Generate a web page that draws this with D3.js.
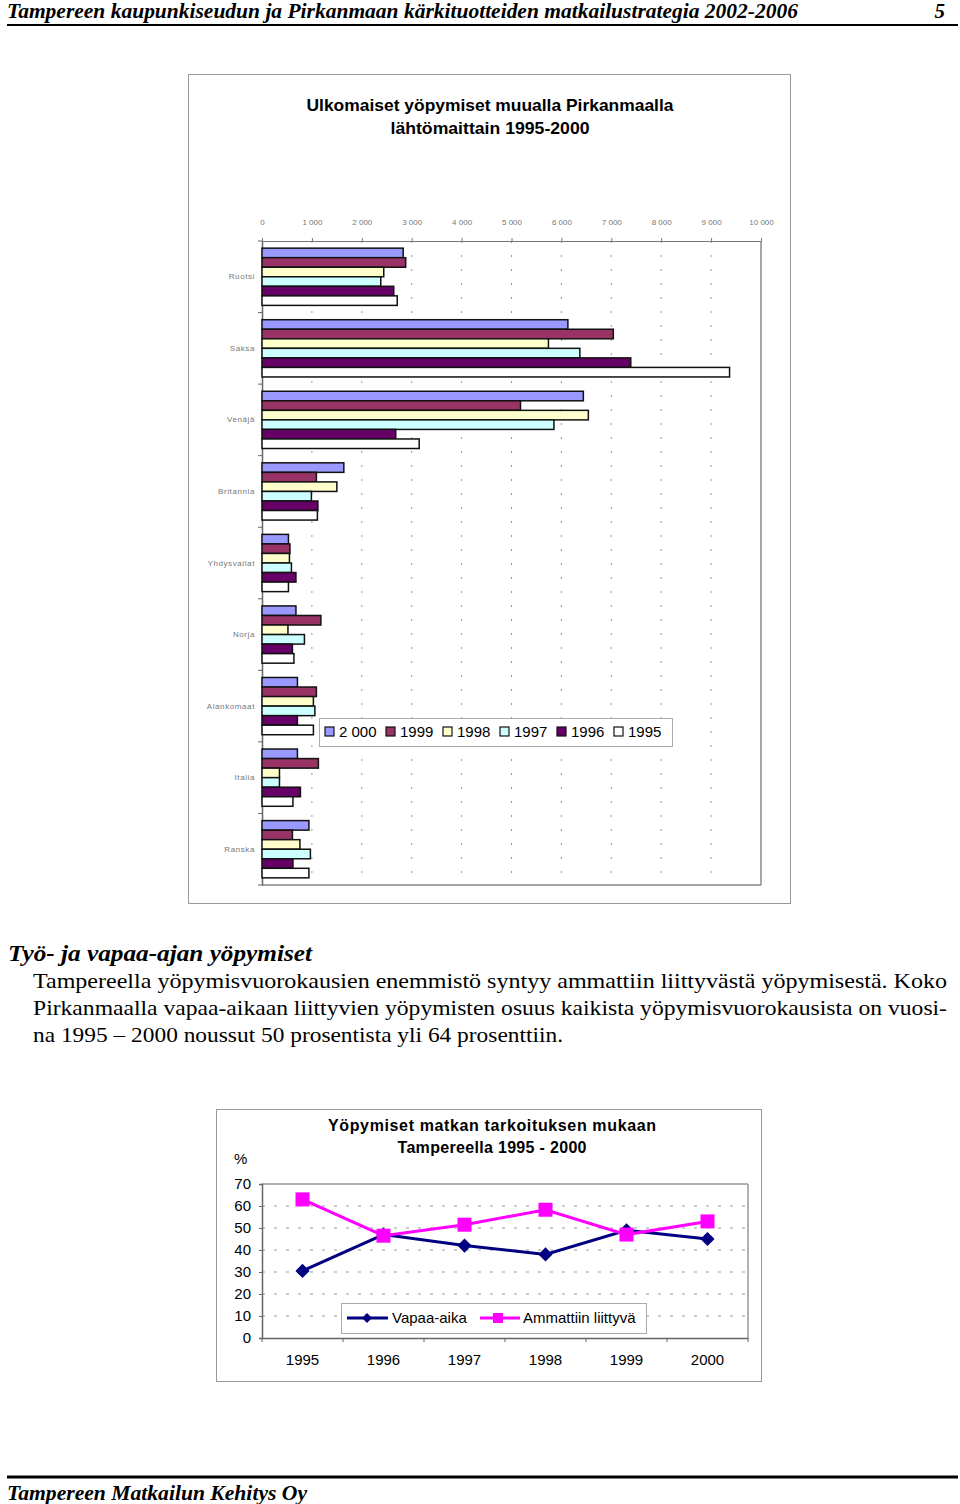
<!DOCTYPE html>
<meta charset="utf-8">
<script src="https://d3js.org/d3.v7.min.js"></script>
<style>
  body { margin: 0; background: #fff; }
  svg { display: block; }
</style>
<div id="page"></div>
<script>
// ---- data: bar chart (foreign overnight stays by country, 1995-2000) ----
var countries = ["Ruotsi", "Saksa", "Venäjä", "Britannia", "Yhdysvallat", "Norja", "Alankomaat", "Italia", "Ranska"];
var years = ["2 000", "1999", "1998", "1997", "1996", "1995"];
var yearColors = ["#9999FF", "#993366", "#FFFFCC", "#CCFFFF", "#660066", "#FFFFFF"];
// one array per year, same order as countries
var v2000 = [2830, 6130, 6440, 1640,  530,  680,  710,  710,  940];
var v1999 = [2880, 7040, 5180, 1090,  560, 1180, 1090, 1130,  610];
var v1998 = [2440, 5740, 6540, 1500,  550,  520, 1030,  350,  760];
var v1997 = [2380, 6370, 5850,  990,  590,  850, 1060,  350,  970];
var v1996 = [2640, 7390, 2680, 1120,  680,  610,  710,  770,  620];
var v1995 = [2710, 9370, 3150, 1110,  530,  640, 1030,  620,  940];
var barTicks = [0, 1000, 2000, 3000, 4000, 5000, 6000, 7000, 8000, 9000, 10000];

// ---- data: line chart (overnight stays by purpose, Tampere) ----
var lineYears = ["1995", "1996", "1997", "1998", "1999", "2000"];
var vapaaAika = [30.5, 47, 42, 38, 49, 45];
var ammattiin = [63, 46.5, 51.5, 58.3, 47, 53];
var pctTicks = [0, 10, 20, 30, 40, 50, 60, 70];

var W = 960, H = 1504;
var serif = "'Liberation Serif', 'Times New Roman', serif";
var sans = "'Liberation Sans', Arial, sans-serif";

var svg = d3.select("#page").append("svg")
    .attr("width", W)
    .attr("height", H);
svg.append("rect").attr("width", W).attr("height", H).attr("fill", "#fff");

// ---------- page header / footer ----------
svg.append("text")
    .attr("x", 7).attr("y", 18)
    .attr("textLength", 791).attr("lengthAdjust", "spacingAndGlyphs")
    .style("font-family", serif).style("font-size", "21px")
    .style("font-weight", "bold").style("font-style", "italic")
    .text("Tampereen kaupunkiseudun ja Pirkanmaan kärkituotteiden matkailustrategia 2002-2006");
svg.append("text")
    .attr("x", 945).attr("y", 18).attr("text-anchor", "end")
    .style("font-family", serif).style("font-size", "21px")
    .style("font-weight", "bold").style("font-style", "italic")
    .text("5");
svg.append("line")
    .attr("x1", 7).attr("x2", 958).attr("y1", 25).attr("y2", 25)
    .attr("stroke", "#000").attr("stroke-width", 2);

svg.append("line")
    .attr("x1", 7).attr("x2", 958).attr("y1", 1477).attr("y2", 1477)
    .attr("stroke", "#000").attr("stroke-width", 3);
svg.append("text")
    .attr("x", 7).attr("y", 1500)
    .attr("textLength", 300).attr("lengthAdjust", "spacingAndGlyphs")
    .style("font-family", serif).style("font-size", "21px")
    .style("font-weight", "bold").style("font-style", "italic")
    .text("Tampereen Matkailun Kehitys Oy");

// ---------- bar chart ----------
var bc = svg.append("g");
bc.append("rect")
    .attr("x", 188.5).attr("y", 74.5).attr("width", 602).attr("height", 829)
    .attr("fill", "#fff").attr("stroke", "#999").attr("stroke-width", 1);

bc.append("text")
    .attr("x", 490).attr("y", 111).attr("text-anchor", "middle")
    .attr("textLength", 367).attr("lengthAdjust", "spacingAndGlyphs")
    .style("font-family", sans).style("font-size", "17px").style("font-weight", "bold")
    .text("Ulkomaiset yöpymiset muualla Pirkanmaalla");
bc.append("text")
    .attr("x", 490).attr("y", 134).attr("text-anchor", "middle")
    .attr("textLength", 199).attr("lengthAdjust", "spacingAndGlyphs")
    .style("font-family", sans).style("font-size", "17px").style("font-weight", "bold")
    .text("lähtömaittain 1995-2000");

var x = d3.scaleLinear().domain([0, 10000]).range([262, 761]);
var y0 = d3.scaleBand().domain(countries).range([241, 885])
    .paddingInner(0.2).paddingOuter(0.1);
var y1 = d3.scaleBand().domain(years).range([0, y0.bandwidth()]);

// dotted vertical grid
bc.append("g").selectAll("line")
    .data(barTicks.slice(1, -1))
    .enter().append("line")
      .attr("x1", function(d) { return x(d); })
      .attr("x2", function(d) { return x(d); })
      .attr("y1", 241).attr("y2", 885)
      .attr("stroke", "#999").attr("stroke-width", 1)
      .attr("stroke-dasharray", "2,12");

// plot frame right & bottom
bc.append("line").attr("x1", 761).attr("x2", 761).attr("y1", 241).attr("y2", 885)
    .attr("stroke", "#888").attr("stroke-width", 1.5);
bc.append("line").attr("x1", 262).attr("x2", 761).attr("y1", 885).attr("y2", 885)
    .attr("stroke", "#888").attr("stroke-width", 1.5);

// top axis
var topAxis = bc.append("g")
    .attr("transform", "translate(0,241)")
    .call(d3.axisTop(x).tickValues(barTicks).tickSize(3).tickPadding(13)
      .tickFormat(function(d) { return d3.format(",")(d).replace(",", " "); }));
topAxis.select(".domain").attr("stroke", "#777");
topAxis.selectAll(".tick line").attr("stroke", "#777");
topAxis.selectAll(".tick text")
    .style("font-family", sans).style("font-size", "8px").attr("fill", "#777");

// left axis
var leftAxis = bc.append("g")
    .attr("transform", "translate(262,0)")
    .call(d3.axisLeft(y0).tickSize(0).tickPadding(7));
leftAxis.select(".domain").attr("stroke", "#666").attr("stroke-width", 1.5);
leftAxis.selectAll(".tick text")
    .style("font-family", sans).style("font-size", "8px")
    .style("letter-spacing", "0.6px").attr("fill", "#777");
// small ticks between categories
bc.append("g").selectAll("line")
    .data(d3.range(countries.length + 1))
    .enter().append("line")
      .attr("x1", 258).attr("x2", 262)
      .attr("y1", function(i) { return 241 + i * y0.step(); })
      .attr("y2", function(i) { return 241 + i * y0.step(); })
      .attr("stroke", "#666");

var barSeries = [v2000, v1999, v1998, v1997, v1996, v1995];
var barRows = [];
countries.forEach(function(c, ci) {
  years.forEach(function(yr, yi) {
    barRows.push({country: c, year: yr, value: barSeries[yi][ci], color: yearColors[yi]});
  });
});

bc.append("g").selectAll("rect")
    .data(barRows)
    .enter().append("rect")
      .attr("x", x(0))
      .attr("y", function(d) { return y0(d.country) + y1(d.year); })
      .attr("width", function(d) { return x(d.value) - x(0); })
      .attr("height", y1.bandwidth())
      .attr("fill", function(d) { return d.color; })
      .attr("stroke", "#111").attr("stroke-width", 1.5);

// legend
var lg = bc.append("g");
lg.append("rect")
    .attr("x", 319.5).attr("y", 718.5).attr("width", 353).attr("height", 28)
    .attr("fill", "#fff").attr("stroke", "#aaa");
var legX = [325, 386, 443, 500, 557, 614];
var lgItem = lg.selectAll("g.item")
    .data(years)
    .enter().append("g")
      .attr("class", "item")
      .attr("transform", function(d, i) { return "translate(" + legX[i] + ",727)"; });
lgItem.append("rect")
    .attr("width", 9).attr("height", 9)
    .attr("fill", function(d, i) { return yearColors[i]; })
    .attr("stroke", "#111").attr("stroke-width", 1.2);
lgItem.append("text")
    .attr("x", 14).attr("y", 10)
    .style("font-family", sans).style("font-size", "15px")
    .text(function(d) { return d; });

// ---------- body text ----------
svg.append("text")
    .attr("x", 8).attr("y", 961)
    .attr("textLength", 304).attr("lengthAdjust", "spacingAndGlyphs")
    .style("font-family", serif).style("font-size", "23px")
    .style("font-weight", "bold").style("font-style", "italic")
    .text("Työ- ja vapaa-ajan yöpymiset");

var para = [
  {t: "Tampereella yöpymisvuorokausien enemmistö syntyy ammattiin liittyvästä yöpymisestä. Koko", w: 914},
  {t: "Pirkanmaalla vapaa-aikaan liittyvien yöpymisten osuus kaikista yöpymisvuorokausista on vuosi-", w: 914},
  {t: "na 1995 – 2000 noussut 50 prosentista yli 64 prosenttiin.", w: 530}
];
svg.append("g").selectAll("text")
    .data(para)
    .enter().append("text")
      .attr("x", 33)
      .attr("y", function(d, i) { return 988 + i * 27; })
      .attr("textLength", function(d) { return d.w; })
      .attr("lengthAdjust", "spacingAndGlyphs")
      .style("font-family", serif).style("font-size", "22px")
      .text(function(d) { return d.t; });

// ---------- line chart ----------
var lc = svg.append("g");
lc.append("rect")
    .attr("x", 216.5).attr("y", 1109.5).attr("width", 545).attr("height", 272)
    .attr("fill", "#fff").attr("stroke", "#999");

lc.append("text")
    .attr("x", 492).attr("y", 1131).attr("text-anchor", "middle")
    .attr("textLength", 328).attr("lengthAdjust", "spacing")
    .style("font-family", sans).style("font-size", "16px").style("font-weight", "bold")
    .text("Yöpymiset matkan tarkoituksen mukaan");
lc.append("text")
    .attr("x", 492).attr("y", 1153).attr("text-anchor", "middle")
    .attr("textLength", 189).attr("lengthAdjust", "spacing")
    .style("font-family", sans).style("font-size", "16px").style("font-weight", "bold")
    .text("Tampereella 1995 - 2000");
lc.append("text")
    .attr("x", 234).attr("y", 1164)
    .style("font-family", sans).style("font-size", "15px")
    .text("%");

var lx = d3.scaleBand().domain(lineYears).range([262, 748]);
var ly = d3.scaleLinear().domain([0, 70]).range([1338, 1184]);

// dashed horizontal grid
lc.append("g").selectAll("line")
    .data(pctTicks.slice(1, -1))
    .enter().append("line")
      .attr("x1", 262).attr("x2", 748)
      .attr("y1", function(d) { return ly(d); })
      .attr("y2", function(d) { return ly(d); })
      .attr("stroke", "#999").attr("stroke-dasharray", "3,9");

// frame top and right
lc.append("line").attr("x1", 262).attr("x2", 748).attr("y1", ly(70)).attr("y2", ly(70))
    .attr("stroke", "#999").attr("stroke-width", 1.5);
lc.append("line").attr("x1", 748).attr("x2", 748).attr("y1", ly(70)).attr("y2", ly(0))
    .attr("stroke", "#999").attr("stroke-width", 1.5);

var yAx = lc.append("g")
    .attr("transform", "translate(262,0)")
    .call(d3.axisLeft(ly).tickValues(pctTicks).tickSize(3).tickPadding(8));
yAx.select(".domain").attr("stroke", "#666").attr("stroke-width", 1.5);
yAx.selectAll(".tick line").attr("stroke", "#666");
yAx.selectAll(".tick text")
    .style("font-family", sans).style("font-size", "15px").attr("fill", "#000");

var xAx = lc.append("g")
    .attr("transform", "translate(0,1338)")
    .call(d3.axisBottom(lx).tickSize(0).tickPadding(16));
xAx.select(".domain").attr("stroke", "#666").attr("stroke-width", 1.5);
xAx.selectAll(".tick text")
    .style("font-family", sans).style("font-size", "15px").attr("fill", "#000");
lc.append("g").selectAll("line")
    .data(d3.range(lineYears.length + 1))
    .enter().append("line")
      .attr("x1", function(i) { return 262 + i * lx.step(); })
      .attr("x2", function(i) { return 262 + i * lx.step(); })
      .attr("y1", 1338).attr("y2", 1342)
      .attr("stroke", "#666");

function cx(d, i) { return lx(lineYears[i]) + lx.bandwidth() / 2; }
var line = d3.line()
    .x(function(d, i) { return cx(d, i); })
    .y(function(d) { return ly(d); });

lc.append("path").datum(vapaaAika)
    .attr("d", line).attr("fill", "none")
    .attr("stroke", "#000080").attr("stroke-width", 3);
var diamond = d3.symbol().type(d3.symbolSquare).size(100);
lc.append("g").selectAll("path")
    .data(vapaaAika)
    .enter().append("path")
      .attr("d", diamond)
      .attr("transform", function(d, i) { return "translate(" + cx(d, i) + "," + ly(d) + ") rotate(45)"; })
      .attr("fill", "#000080");

lc.append("path").datum(ammattiin)
    .attr("d", line).attr("fill", "none")
    .attr("stroke", "#FF00FF").attr("stroke-width", 3);
lc.append("g").selectAll("rect")
    .data(ammattiin)
    .enter().append("rect")
      .attr("x", function(d, i) { return cx(d, i) - 7; })
      .attr("y", function(d) { return ly(d) - 7; })
      .attr("width", 14).attr("height", 14)
      .attr("fill", "#FF00FF");

// legend
var ll = lc.append("g");
ll.append("rect")
    .attr("x", 341.5).attr("y", 1303.5).attr("width", 305).attr("height", 30)
    .attr("fill", "#fff").attr("stroke", "#aaa");
ll.append("line").attr("x1", 347).attr("x2", 388).attr("y1", 1318).attr("y2", 1318)
    .attr("stroke", "#000080").attr("stroke-width", 3);
ll.append("path").attr("d", d3.symbol().type(d3.symbolSquare).size(50))
    .attr("transform", "translate(367,1318) rotate(45)").attr("fill", "#000080");
ll.append("text").attr("x", 392).attr("y", 1323)
    .style("font-family", sans).style("font-size", "15px").text("Vapaa-aika");
ll.append("line").attr("x1", 480).attr("x2", 520).attr("y1", 1318).attr("y2", 1318)
    .attr("stroke", "#FF00FF").attr("stroke-width", 3);
ll.append("rect").attr("x", 493).attr("y", 1313).attr("width", 10).attr("height", 10)
    .attr("fill", "#FF00FF");
ll.append("text").attr("x", 523).attr("y", 1323)
    .style("font-family", sans).style("font-size", "15px").text("Ammattiin liittyvä");
</script>
